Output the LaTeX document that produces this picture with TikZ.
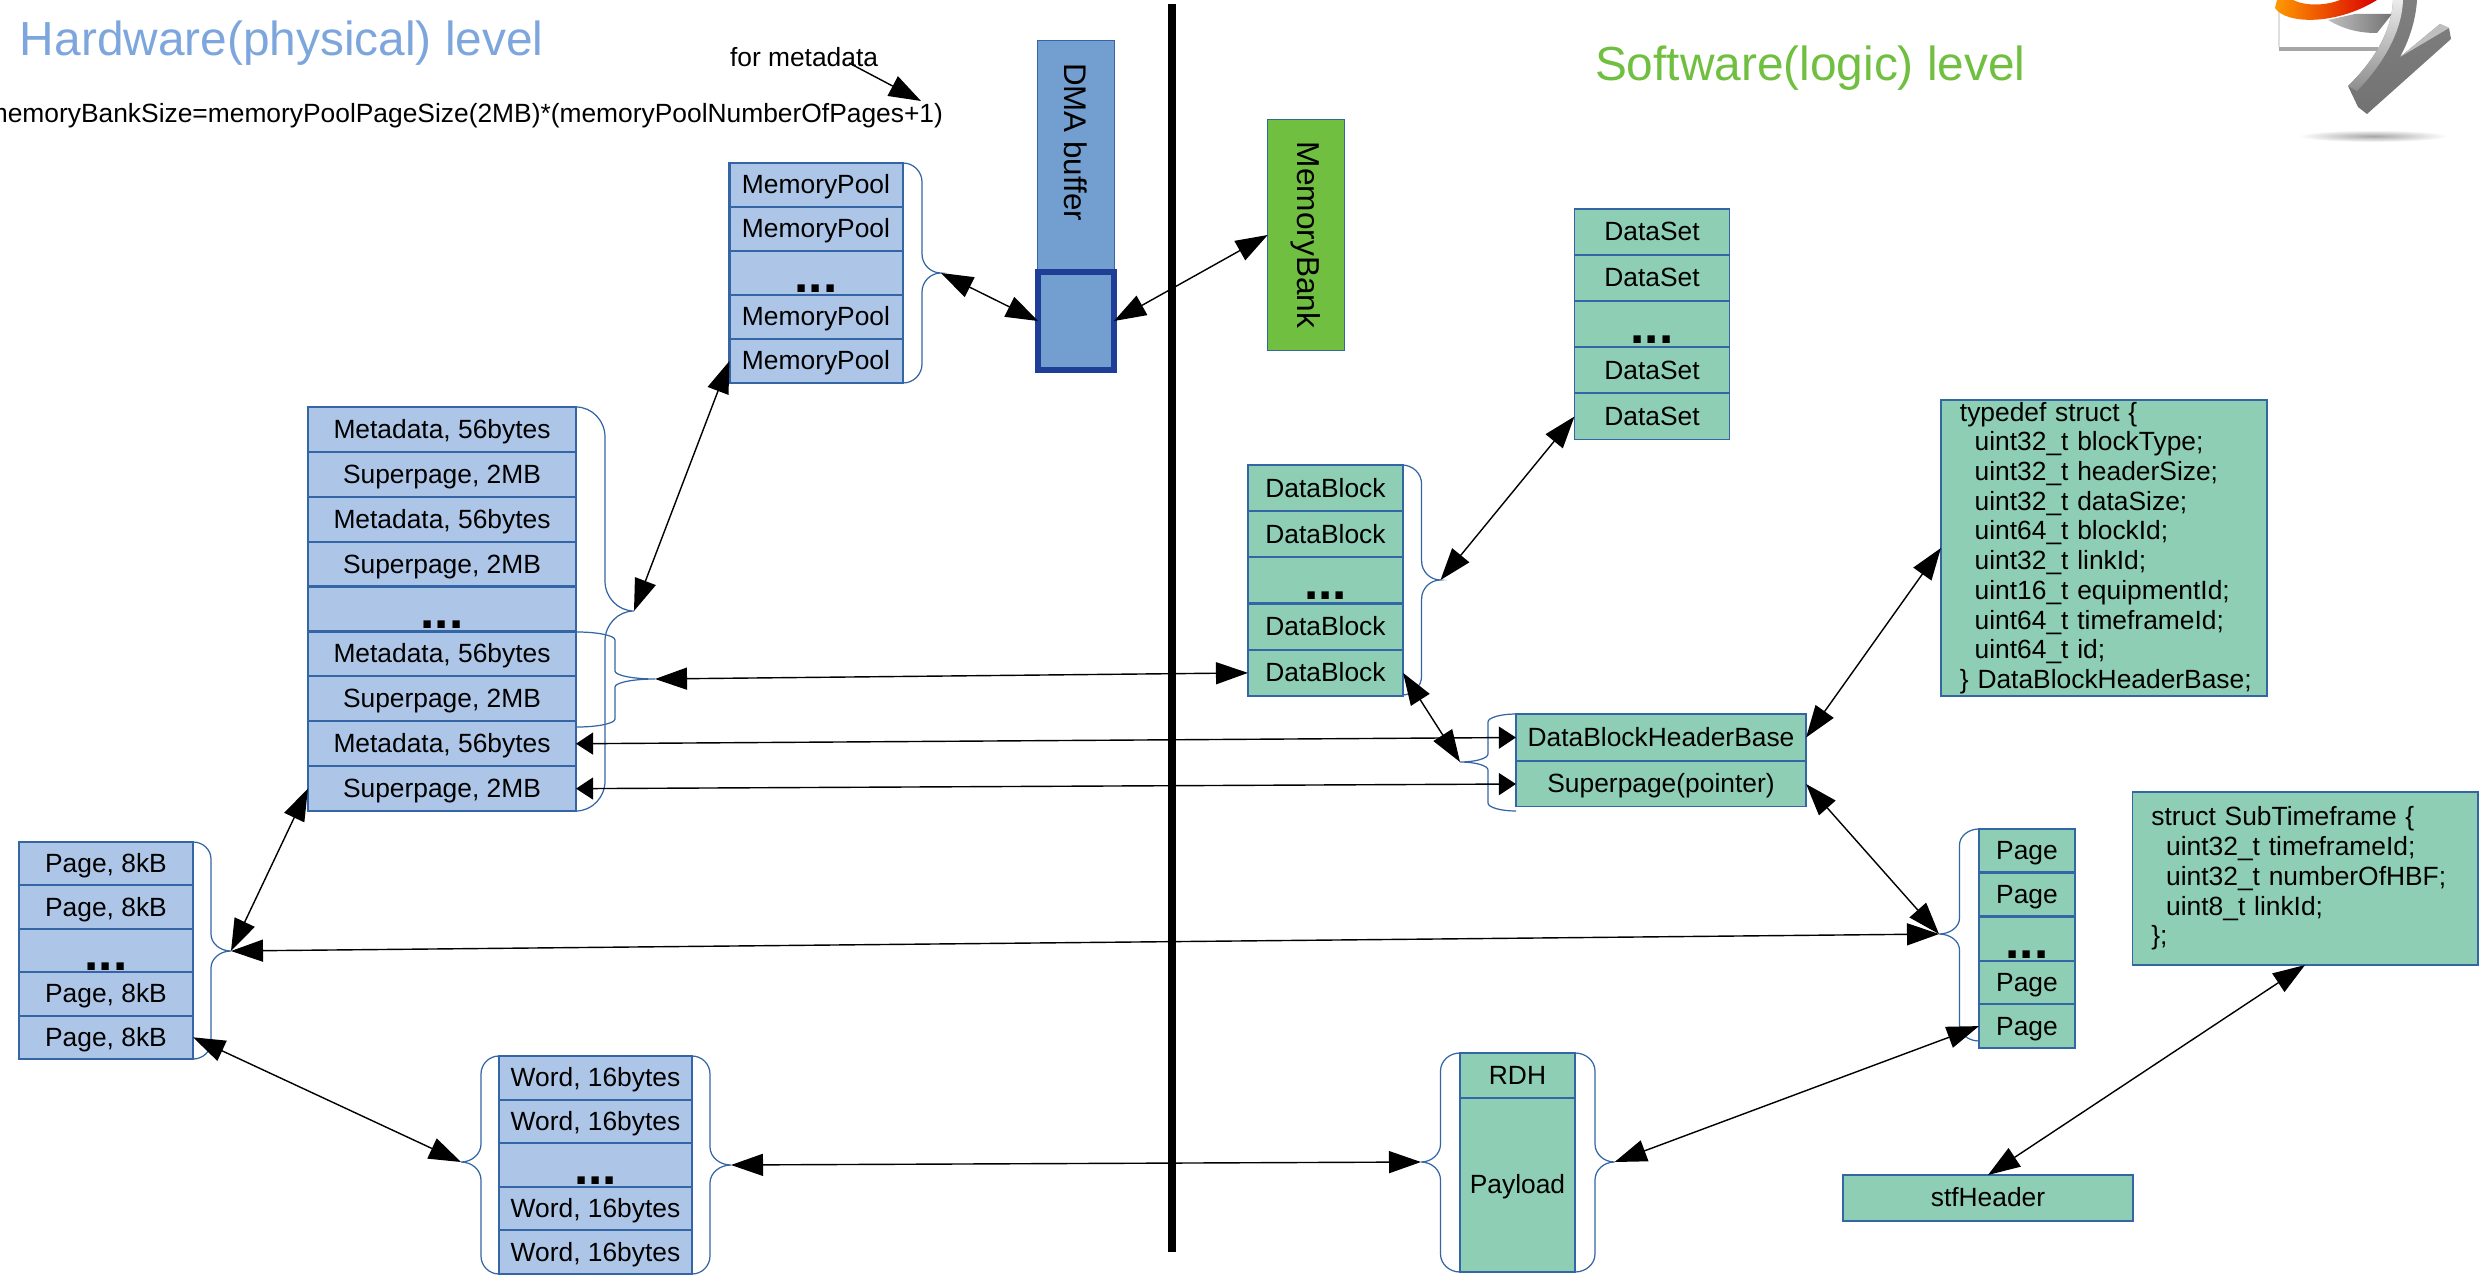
\documentclass[tikz,border=0pt]{standalone}
\usepackage{fontspec}
\setmainfont{Liberation Sans}
\usepackage{tikz}
\usetikzlibrary{arrows.meta}

\definecolor{hwfill}{HTML}{ADC6E8}
\definecolor{swfill}{HTML}{8DCEB5}
\definecolor{edgeblue}{HTML}{3465A4}
\definecolor{dmafill}{HTML}{729FCF}
\definecolor{dmaedge}{HTML}{1F3F96}
\definecolor{bankfill}{HTML}{70BF41}
\definecolor{hwtitle}{HTML}{7CA6DC}

% name, x of the ends, y top, y bottom, x spine, x tip, y tip, corner size
\newcommand{\curlybrace}[8]{
  \coordinate (#1) at (#6,#7);
  \draw [bracket] (#2,#3) .. controls ({#2+0.55*(#5-#2)},#3) and (#5,{#3+0.45*#8}) .. (#5,{#3+#8})
    -- (#5,{#7-#8}) .. controls (#5,{#7-0.45*#8}) and ({#5+0.45*(#6-#5)},#7) .. (#6,#7)
    .. controls ({#5+0.45*(#6-#5)},#7) and (#5,{#7+0.45*#8}) .. (#5,{#7+#8})
    -- (#5,{#4-#8}) .. controls (#5,{#4-0.45*#8}) and ({#2+0.55*(#5-#2)},#4) .. (#2,#4);
}
\newcommand{\ind}{\hspace*{4.2pt}}

\begin{document}
\begin{tikzpicture}[x=0.01cm, y=-0.01cm, >={Triangle[length=3.2mm,width=2.2mm]},
  every node/.style={font=\fontsize{7.5}{8.45}\selectfont, inner sep=0pt, outer sep=0pt},
  hwcell/.style={draw=edgeblue, line width=0.6pt, fill=hwfill, text height=5.4pt, text depth=0.3pt},
  swbox/.style={draw=edgeblue, line width=0.5pt, fill=swfill},
  swcell/.style={swbox, text height=5.4pt, text depth=0.3pt},
  dotcell/.style={text height=11.3pt, text depth=0pt, font=\fontsize{14.6}{14}\selectfont\bfseries},
  bracket/.style={draw=edgeblue, line width=0.35pt},
  link/.style={<->, line width=0.4pt},
  shortlink/.style={{Triangle[length=1.7mm,width=2.2mm]}-{Triangle[length=1.7mm,width=2.2mm]}, line width=0.4pt}]
  \useasboundingbox (0,0) rectangle (2484,1276);

  % titles
  \node [anchor=base west, text=hwtitle, font=\fontsize{13.6}{16}\selectfont] (hwtitle) at (20,56) {Hardware(physical) level};
  \node [anchor=base west, text=bankfill, font=\fontsize{13.6}{16}\selectfont] (swtitle) at (1595,81) {Software(logic) level};
  \node [anchor=base west] (metanote) at (730,66.5) {for metadata};
  \node [anchor=base east] (banksize) at (943,123) {memoryBankSize=memoryPoolPageSize(2MB)*(memoryPoolNumberOfPages+1)};
  \coordinate (notestart) at (849,63);
  \coordinate (noteend) at (921,101);
  \draw [->, line width=0.4pt] (notestart) -- (noteend);

  % separator
  \coordinate (bartop) at (1172,4);
  \coordinate (barbottom) at (1172,1252);
  \draw [line width=0.08cm] (bartop) -- (barbottom);

  % memory pools
  \foreach \i in {1,2,4,5}
    \node [hwcell, minimum width=1.73cm, minimum height=0.44cm] (pool\i) at (816,{163+44*(\i-0.5)}) {MemoryPool};
  \node [hwcell, dotcell, minimum width=1.73cm, minimum height=0.44cm] (pool3) at (816,273) {...};
  \curlybrace{poolbrace}{903}{163}{383}{922}{941}{273}{19}

  % DMA buffer and memory bank
  \node [draw=edgeblue, line width=0.3pt, fill=dmafill, minimum width=0.775cm, minimum height=2.3cm] (dma) at (1076,156) {};
  \node [rotate=-90, font=\fontsize{8.9}{10}\selectfont] (dmalabel) at (1076,142) {DMA buffer};
  \node [draw=dmaedge, line width=1.6pt, fill=dmafill, minimum width=0.76cm, minimum height=0.98cm] (dmapart) at (1076,321) {};
  \node [draw=edgeblue, line width=0.3pt, fill=bankfill, rotate=-90, minimum width=2.3cm, minimum height=0.765cm, font=\fontsize{9}{10}\selectfont] (bank) at (1306,235) {MemoryBank};

  % metadata and superpages
  \foreach \i/\lab in {1/{Metadata, 56bytes},2/{Superpage, 2MB},3/{Metadata, 56bytes},4/{Superpage, 2MB},6/{Metadata, 56bytes},7/{Superpage, 2MB},8/{Metadata, 56bytes},9/{Superpage, 2MB}}
    \node [hwcell, minimum width=2.68cm, minimum height=0.449cm] (super\i) at (442,{407+44.9*(\i-0.5)}) {\lab};
  \node [hwcell, dotcell, minimum width=2.68cm, minimum height=0.449cm] (super5) at (442,609) {...};
  \curlybrace{superbrace}{576}{407}{811}{605}{634}{611}{30}
  \curlybrace{partbrace}{577}{632}{727}{615}{655}{679}{8}

  % pages, hardware side
  \foreach \i in {1,2,4,5}
    \node [hwcell, minimum width=1.74cm, minimum height=0.434cm] (hwpage\i) at (106,{842+43.4*(\i-0.5)}) {Page, 8kB};
  \node [hwcell, dotcell, minimum width=1.74cm, minimum height=0.434cm] (hwpage3) at (106,950.5) {...};
  \curlybrace{hwpagebrace}{193}{842}{1059}{211}{231}{951}{17}

  % words
  \foreach \i in {1,2,4,5}
    \node [hwcell, minimum width=1.93cm, minimum height=0.436cm] (word\i) at (595.5,{1056+43.6*(\i-0.5)}) {Word, 16bytes};
  \node [hwcell, dotcell, minimum width=1.93cm, minimum height=0.436cm] (word3) at (595.5,1165) {...};
  \curlybrace{wordbrace}{692}{1056}{1274}{710}{731}{1165}{18}
  \curlybrace{wordbraceleft}{499}{1056}{1274}{481}{461}{1162}{18}

  % data sets
  \foreach \i in {1,2,4,5}
    \node [swcell, minimum width=1.55cm, minimum height=0.46cm] (set\i) at (1652,{208.6+46.2*(\i-0.5)}) {DataSet};
  \node [swcell, dotcell, minimum width=1.55cm, minimum height=0.46cm] (set3) at (1652,324) {...};

  % data blocks
  \foreach \i in {1,2,4,5}
    \node [swcell, minimum width=1.55cm, minimum height=0.46cm] (block\i) at (1325.5,{465+46.2*(\i-0.5)}) {DataBlock};
  \node [swcell, dotcell, minimum width=1.55cm, minimum height=0.46cm] (block3) at (1325.5,580) {...};
  \curlybrace{blockbrace}{1402}{465}{695}{1421.6}{1440.5}{580}{19}

  % block header
  \node [swcell, minimum width=2.9cm, minimum height=0.47cm] (header) at (1661,737.5) {DataBlockHeaderBase};
  \node [swcell, minimum width=2.9cm, minimum height=0.45cm] (pointer) at (1661,784) {Superpage(pointer)};
  \curlybrace{headerbrace}{1516}{714}{811}{1488}{1460}{762}{8}

  % header description
  \node [swbox, inner xsep=0.19cm, text width=2.88cm, minimum height=2.96cm, align=left] (typedefbox) at (2104,548) {%
    typedef struct \{\\
    \ind uint32\_t blockType;\\
    \ind uint32\_t headerSize;\\
    \ind uint32\_t dataSize;\\
    \ind uint64\_t blockId;\\
    \ind uint32\_t linkId;\\
    \ind uint16\_t equipmentId;\\
    \ind uint64\_t timeframeId;\\
    \ind uint64\_t id;\\
    \mbox{\} DataBlockHeaderBase;}};

  % pages, software side
  \foreach \i in {1,2,4,5}
    \node [swcell, line width=0.7pt, minimum width=0.96cm, minimum height=0.44cm] (swpage\i) at (2027,{829+43.8*(\i-0.5)}) {Page};
  \node [swcell, dotcell, line width=0.7pt, minimum width=0.96cm, minimum height=0.44cm] (swpage3) at (2027,939) {...};
  \curlybrace{swpagebrace}{1979}{829}{1041}{1959.5}{1939}{934}{16}

  % heartbeat frame
  \node [swcell, line width=0.7pt, minimum width=1.15cm, minimum height=0.45cm] (rdh) at (1517.5,1075.5) {RDH};
  \node [swcell, line width=0.7pt, minimum width=1.15cm, minimum height=1.74cm] (payload) at (1517.5,1185) {Payload};
  \curlybrace{framebrace}{1460}{1053}{1272}{1440.5}{1421}{1162}{18}
  \curlybrace{framebraceright}{1575}{1053}{1272}{1595}{1614.6}{1162}{18}

  % subtimeframe
  \node [swcell, minimum width=2.9cm, minimum height=0.46cm] (stfheader) at (1988,1198) {stfHeader};
  \node [swbox, inner xsep=0.19cm, text width=3.07cm, minimum height=1.73cm, align=left] (stfbox) at (2305,878.5) {%
    struct SubTimeframe \{\\
    \ind uint32\_t timeframeId;\\
    \ind uint32\_t numberOfHBF;\\
    \ind uint8\_t linkId;\\
    \};};

  % connectors
  \draw [link] (poolbrace) -- (dmapart.west);
  \draw [link] (dmapart.east) -- (bank.south);
  \draw [link] (superbrace) -- (pool5.west);
  \draw [link] (hwpagebrace) -- (super9.west);
  \draw [link] (hwpage5.east) -- (wordbraceleft);
  \draw [link] (partbrace) -- (block5.west);
  \draw [shortlink] (super8.east) -- (header.west);
  \draw [shortlink] (super9.east) -- (pointer.west);
  \draw [link] (hwpagebrace) -- (swpagebrace);
  \draw [link] (wordbrace) -- (framebrace);
  \draw [link] (set5.west) -- (blockbrace);
  \draw [link] (block5.east) -- (headerbrace);
  \draw [link] (header.east) -- (typedefbox.west);
  \draw [link] (pointer.east) -- (swpagebrace);
  \draw [link] (swpage5.west) -- (framebraceright);
  \draw [link] (stfheader.north) -- (stfbox.south);

  % logo in the corner
  \draw [gray!25, line width=0.3pt] (2279,0) -- (2279,47);
  \fill [black!35] (2279,47) rectangle (2378,51);
  \shade [left color=black!25, right color=black!55] (2328,20) .. controls (2345,30) and (2360,33) .. (2377,33) -- (2392,14) -- (2355,14) -- cycle;
  \shade [left color=orange!80!yellow, right color=red!85!black] (2275,8) .. controls (2285,24) and (2335,26) .. (2377,0) -- (2340,0) .. controls (2325,6) and (2305,6) .. (2293,0) -- (2277,0) -- cycle;
  \shade [top color=black!50, bottom color=black!55] (2393,0) -- (2417,0) .. controls (2416,15) and (2412,35) .. (2400,57) -- (2440,24) -- (2449,28) -- (2451,39) -- (2367,114) -- (2358,107) -- (2348,86) .. controls (2375,60) and (2392,30) .. (2393,0) -- cycle;
  \shade [top color=black!8, bottom color=black!45] (2393,0) -- (2403,0) .. controls (2402,30) and (2385,62) .. (2357,91) -- (2348,86) .. controls (2375,60) and (2392,30) .. (2393,0) -- cycle;
  \fill [black!25] (2400,57) -- (2440,24) -- (2449,28) -- cycle;
  \shade [inner color=black!35, outer color=white, draw=none] (2373,136) ellipse [x radius=75, y radius=6];
\end{tikzpicture}
\end{document}
